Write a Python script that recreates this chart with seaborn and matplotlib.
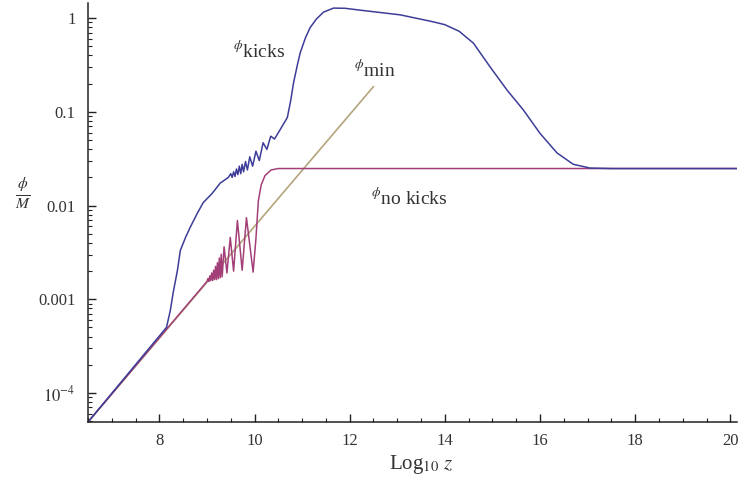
import numpy as np
import pandas as pd
import matplotlib
matplotlib.use("Agg")
import matplotlib.pyplot as plt
from matplotlib.ticker import FixedLocator, LogLocator, NullFormatter, MultipleLocator
import seaborn as sns

# phi_min: straight power law in log z
min_x = [6.5, 12.5]
min_y = [4.9e-5, 0.186]

# phi with kicks: log10(phi/M) at each log10 z
kicks_x = [6.5, 8.15, 8.23, 8.29, 8.38, 8.44, 8.55, 8.65, 8.80, 8.92, 9.11, 9.28,
           9.45, 9.50, 9.53, 9.56, 9.59, 9.62, 9.65, 9.68, 9.71, 9.74, 9.77, 9.81,
           9.85, 9.90, 9.96, 10.03, 10.10, 10.18, 10.26, 10.34, 10.42, 10.55, 10.69,
           10.76, 10.82, 10.90, 10.96, 11.07, 11.17, 11.30, 11.45, 11.66, 11.90,
           12.22, 13.06, 13.76, 14.00, 14.30, 14.60, 14.95, 15.31, 15.65, 16.00,
           16.36, 16.70, 17.05, 17.50, 20.14]
kicks_logy = [-4.31, -3.30, -3.12, -2.93, -2.69, -2.48, -2.34, -2.23, -2.08, -1.97,
              -1.87, -1.76, -1.70, -1.66, -1.70, -1.64, -1.69, -1.61, -1.67, -1.58,
              -1.66, -1.56, -1.64, -1.53, -1.62, -1.48, -1.58, -1.42, -1.52, -1.33,
              -1.40, -1.26, -1.29, -1.18, -1.06, -0.88, -0.69, -0.50, -0.37, -0.21,
              -0.10, -0.01, 0.064, 0.107, 0.105, 0.085, 0.035, -0.04, -0.07, -0.14,
              -0.267, -0.52, -0.77, -0.98, -1.23, -1.44, -1.56, -1.60, -1.605,
              -1.605]

# phi without kicks
nokicks_x = [6.5, 9.00, 9.02, 9.04, 9.06, 9.08, 9.10, 9.12, 9.14, 9.16, 9.18, 9.20,
             9.22, 9.24, 9.26, 9.28, 9.30, 9.32, 9.36, 9.42, 9.49, 9.56, 9.64, 9.74,
             9.83, 9.97, 10.03, 10.08, 10.14, 10.22, 10.35, 10.50, 20.14]
nokicks_logy = [-4.31, -2.81, -2.78, -2.81, -2.75, -2.80, -2.72, -2.80, -2.69, -2.79,
                -2.65, -2.79, -2.61, -2.78, -2.56, -2.77, -2.52, -2.76, -2.44, -2.72,
                -2.34, -2.70, -2.16, -2.69, -2.13, -2.71, -2.35, -1.95, -1.78, -1.68,
                -1.62, -1.605, -1.605]

y_ticks = [1e-4, 1e-3, 1e-2, 1e-1, 1]
y_tick_labels = [r"$10^{-4}$", "0.001", "0.01", "0.1", "1"]
x_ticks = [8, 10, 12, 14, 16, 18, 20]

sns.set_style("ticks")
plt.rcParams["font.family"] = ["Liberation Serif", "DejaVu Serif"]
plt.rcParams["mathtext.fontset"] = "stix"

fig = plt.figure(figsize=(7.38, 4.83), dpi=100)
ax = fig.add_axes([88 / 738, 1 - 422 / 483, 649 / 738, 419 / 483])

blue = "#3d3d99"
magenta = "#a33f78"
tan = "#b3a47c"

df_min = pd.DataFrame({"x": min_x, "y": min_y})
df_nok = pd.DataFrame({"x": nokicks_x, "y": np.power(10.0, nokicks_logy)})
df_k = pd.DataFrame({"x": kicks_x, "y": np.power(10.0, kicks_logy)})

sns.lineplot(data=df_min, x="x", y="y", sort=False, estimator=None, ax=ax,
             color=tan, lw=1.2)
sns.lineplot(data=df_nok, x="x", y="y", sort=False, estimator=None, ax=ax,
             color=magenta, lw=1.1)
sns.lineplot(data=df_k, x="x", y="y", sort=False, estimator=None, ax=ax,
             color=blue, lw=1.1)

ax.set_yscale("log")
ax.set_xlim(6.5, 20.14)
ax.set_ylim(4.9e-5, 1.45)

ax.xaxis.set_major_locator(FixedLocator(x_ticks))
ax.xaxis.set_minor_locator(MultipleLocator(0.5))
ax.set_yticks(y_ticks)
ax.set_yticklabels(y_tick_labels)
ax.yaxis.set_minor_locator(LogLocator(base=10, subs=np.arange(2, 10)))
ax.yaxis.set_minor_formatter(NullFormatter())

ax.tick_params(which="both", direction="in", colors="#222222", labelcolor="#333333",
               labelsize=12)
ax.tick_params(which="major", length=6, width=1)
ax.tick_params(which="minor", length=3, width=0.8)
ax.tick_params(axis="y", pad=9)
ax.tick_params(axis="x", pad=8)

sns.despine(ax=ax)
for s in ("left", "bottom"):
    ax.spines[s].set_color("#222222")
    ax.spines[s].set_linewidth(1.1)

ax.set_xlabel(r"Log$_{10}$ $z$", fontsize=15, color="#333333", labelpad=4)
ax.xaxis.set_label_coords(0.513, -0.075)
ax.set_ylabel(r"$\frac{\phi}{M}$", fontsize=16, color="#333333", rotation=0)
ax.yaxis.set_label_coords(-0.1, 0.5)

ax.text(9.55, 10 ** -0.42, r"$^{\phi}$kicks", fontsize=14, color="#333333")
ax.text(12.1, 10 ** -0.62, r"$^{\phi}$min", fontsize=14, color="#333333")
ax.text(12.45, 10 ** -1.98, r"$^{\phi}$no kicks", fontsize=14, color="#333333")

fig.savefig("out.png", dpi=100)
